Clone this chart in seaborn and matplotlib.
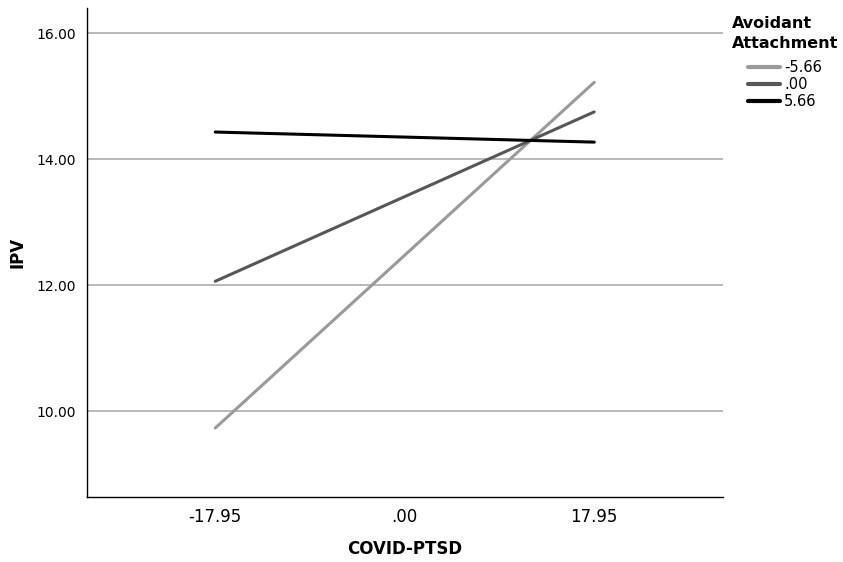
import matplotlib
matplotlib.use("Agg")
import matplotlib.pyplot as plt
import seaborn as sns
import pandas as pd

# simple slopes: IPV by COVID-PTSD at three levels of avoidant attachment
ptsd_levels = [-17.95, 17.95]
groups = ["-5.66", ".00", "5.66"]
ipv_low = [9.73, 15.22]
ipv_mid = [12.06, 14.75]
ipv_high = [14.43, 14.27]

x_ticks = [-17.95, 0.0, 17.95]
x_ticklabels = ["-17.95", ".00", "17.95"]
y_ticks = [10, 12, 14, 16]
y_ticklabels = ["10.00", "12.00", "14.00", "16.00"]

df = pd.DataFrame({
    "COVID-PTSD": ptsd_levels * 3,
    "IPV": ipv_low + ipv_mid + ipv_high,
    "Avoidant Attachment": [g for g in groups for _ in ptsd_levels],
})

sns.set_style("white")
plt.rcParams["text.color"] = "black"
plt.rcParams["axes.labelcolor"] = "black"
plt.rcParams["xtick.color"] = "black"
plt.rcParams["ytick.color"] = "black"

fig = plt.figure(figsize=(8.43, 5.62), dpi=100)
ax = fig.add_axes([0.1032, 0.1157, 0.7545, 0.8701])

for y in y_ticks:
    ax.axhline(y, color="#a6a6a6", lw=1.1, zorder=0)

palette = {"-5.66": "#9a9a9a", ".00": "#575757", "5.66": "#000000"}
sns.lineplot(data=df, x="COVID-PTSD", y="IPV", hue="Avoidant Attachment",
             hue_order=groups, palette=palette, lw=2.2, ax=ax)

ax.set_xlim(-30.1, 30.15)
ax.set_ylim(8.635, 16.4)
ax.set_xticks(x_ticks)
ax.set_xticklabels(x_ticklabels, fontsize=12)
ax.set_yticks(y_ticks)
ax.set_yticklabels(y_ticklabels, fontsize=10)
ax.tick_params(length=0, pad=8)
ax.set_xlabel("COVID-PTSD", fontsize=12, fontweight="bold", labelpad=10)
ax.set_ylabel("IPV", fontsize=12, fontweight="bold", labelpad=7)

for s in ["top", "right"]:
    ax.spines[s].set_visible(False)
for s in ["left", "bottom"]:
    ax.spines[s].set_color("#000000")
    ax.spines[s].set_linewidth(1.0)

leg = ax.legend(title="Avoidant\nAttachment", loc="upper center",
                bbox_to_anchor=(0.931, 0.99), bbox_transform=fig.transFigure,
                frameon=False, fontsize=10.5, handlelength=2.2,
                handletextpad=0.3, labelspacing=0.12, borderpad=0.2)
leg.set_alignment("center")
leg.get_title().set_fontweight("bold")
leg.get_title().set_fontsize(11.5)
leg.get_title().set_linespacing(1.4)
leg._legend_box.sep = 7
for line in leg.get_lines():
    line.set_linewidth(3)

fig.savefig("out.png", dpi=100)
